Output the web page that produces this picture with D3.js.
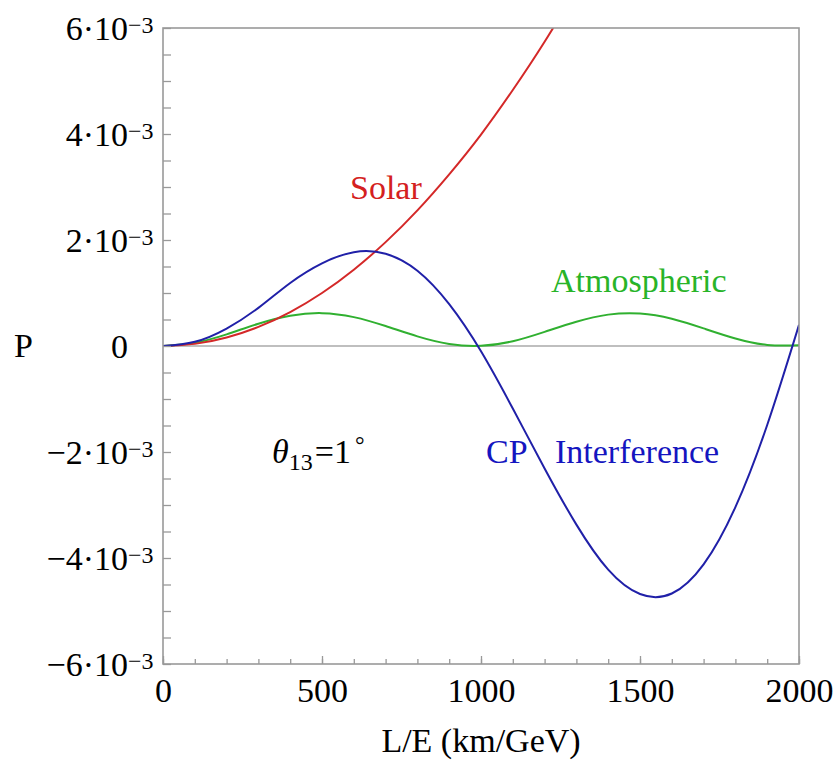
<!DOCTYPE html>
<html>
<head>
<meta charset="utf-8">
<script src="https://cdn.jsdelivr.net/npm/d3@7"></script>
<style>
  body { margin: 0; background: #fff; }
  svg text { font-family: "Liberation Serif", "DejaVu Serif", serif; }
</style>
</head>
<body>
<div id="chart"></div>
<script>
// L/E samples (km/GeV)
const lovere = [0, 100, 200, 300, 400, 500, 600, 700, 800, 900, 1000,
    1100, 1200, 1300, 1400, 1500, 1600, 1700, 1800, 1900, 2000];

// probabilities, in units of 1e-3
const solar = [0, 0.04, 0.16, 0.36, 0.64, 1.00, 1.44, 1.96, 2.56, 3.24, 3.99,
    4.83, 5.74, 6.73];
const atmospheric = [0, 0.062, 0.22, 0.42, 0.57, 0.62, 0.545, 0.376, 0.181, 0.038, 0.003,
    0.09, 0.267, 0.459, 0.592, 0.613, 0.514, 0.332, 0.142, 0.02, 0.012];
const interference = [0, 0.08, 0.33, 0.72, 1.19, 1.56, 1.77, 1.74, 1.42, 0.79, -0.10,
    -1.18, -2.31, -3.37, -4.22, -4.68, -4.67, -4.12, -3.04, -1.49, 0.40];

const yMajor = [-6, -4, -2, 0, 2, 4, 6];
const yMinor = d3.range(-6, 6.01, 0.5);
const xMajor = [0, 500, 1000, 1500, 2000];
const xMinor = d3.range(0, 2001, 100);

const width = 838, height = 760;
const plotLeft = 163, plotRight = 799, plotTop = 28, plotBottom = 664;

let svg = d3.select("#chart").append("svg")
    .attr("width", width)
    .attr("height", height);

let x = d3.scaleLinear().domain([0, 2000]).range([plotLeft, plotRight]);
let y = d3.scaleLinear().domain([-6e-3, 6e-3]).range([plotBottom, plotTop]);

// clip for curves leaving the frame
svg.append("clipPath").attr("id", "plotclip")
    .append("rect")
    .attr("x", plotLeft).attr("y", plotTop)
    .attr("width", plotRight - plotLeft).attr("height", plotBottom - plotTop);

// zero line
svg.append("line")
    .attr("x1", plotLeft).attr("x2", plotRight)
    .attr("y1", y(0)).attr("y2", y(0))
    .attr("stroke", "#aaa").attr("stroke-width", 1.6);

// curves
let line = d3.line()
    .x((d, i) => x(lovere[i]))
    .y(d => y(d * 1e-3))
    .curve(d3.curveNatural);

let g = svg.append("g").attr("clip-path", "url(#plotclip)");
g.append("path").datum(atmospheric)
    .attr("fill", "none").attr("stroke", "#30b030").attr("stroke-width", 2)
    .attr("d", line);
g.append("path").datum(solar)
    .attr("fill", "none").attr("stroke", "#d42828").attr("stroke-width", 2)
    .attr("d", line);
g.append("path").datum(interference)
    .attr("fill", "none").attr("stroke", "#2020a8").attr("stroke-width", 2)
    .attr("d", line);

// frame
svg.append("rect")
    .attr("x", plotLeft).attr("y", plotTop)
    .attr("width", plotRight - plotLeft).attr("height", plotBottom - plotTop)
    .attr("fill", "none").attr("stroke", "#999").attr("stroke-width", 1.6);

// y ticks (inside)
let yAxis = svg.append("g")
    .attr("transform", `translate(${plotLeft},0)`)
    .call(d3.axisLeft(y).tickValues(yMinor.map(v => v * 1e-3)).tickSize(-8).tickFormat(""));
yAxis.select(".domain").remove();
yAxis.selectAll("line").attr("stroke", "#999").attr("stroke-width", 1.3);

// x ticks (inside)
let xMinorAxis = svg.append("g")
    .attr("transform", `translate(0,${plotBottom})`)
    .call(d3.axisBottom(x).tickValues(xMinor).tickSize(-5).tickFormat(""));
xMinorAxis.select(".domain").remove();
xMinorAxis.selectAll("line").attr("stroke", "#999").attr("stroke-width", 1.3);

let xAxis = svg.append("g")
    .attr("transform", `translate(0,${plotBottom})`)
    .call(d3.axisBottom(x).tickValues(xMajor).tickSize(-8).tickPadding(14).tickFormat(d3.format("d")));
xAxis.select(".domain").remove();
xAxis.selectAll("line").attr("stroke", "#999").attr("stroke-width", 1.3);
xAxis.selectAll("text")
    .attr("fill", "#000")
    .style("font-family", "Liberation Serif")
    .style("font-size", "34px");

// y tick labels: mantissa right-aligned, exponent hanging
let ylab = svg.append("g").selectAll("g")
    .data(yMajor)
    .enter().append("g");
ylab.append("text")
    .attr("x", 128)
    .attr("y", d => y(d * 1e-3) + 12)
    .attr("text-anchor", "end")
    .attr("font-size", 34)
    .text(d => d === 0 ? "0" : (d < 0 ? "\u2212" : "") + Math.abs(d) + "\u00b710");
ylab.filter(d => d !== 0).append("text")
    .attr("x", 128)
    .attr("y", d => y(d * 1e-3) + 5)
    .attr("font-size", 24)
    .text("\u22123");

// axis titles
svg.append("text")
    .attr("x", 14).attr("y", 357)
    .attr("font-size", 34)
    .text("P");
svg.append("text")
    .attr("x", (plotLeft + plotRight) / 2).attr("y", 752)
    .attr("text-anchor", "middle")
    .attr("font-size", 34)
    .text("L/E (km/GeV)");

// curve labels
svg.append("text").attr("x", 350).attr("y", 199)
    .attr("font-size", 34).attr("fill", "#d42020").text("Solar");
svg.append("text").attr("x", 551).attr("y", 292)
    .attr("font-size", 34).attr("fill", "#28b428").text("Atmospheric");
svg.append("text").attr("x", 486).attr("y", 463)
    .attr("font-size", 34).attr("fill", "#1515c0").text("CP");
svg.append("text").attr("x", 555).attr("y", 463)
    .attr("font-size", 34).attr("fill", "#1515c0").text("Interference");

let theta = svg.append("text").attr("x", 272).attr("y", 463).attr("font-size", 34);
theta.append("tspan").attr("font-style", "italic").text("\u03b8");
theta.append("tspan").attr("font-size", 24).attr("dy", 7).text("13");
theta.append("tspan").attr("dy", -7).attr("dx", 2).text("=1");
theta.append("tspan").attr("font-size", 24).attr("dy", -10).attr("dx", 4).text("\u00b0");
</script>
</body>
</html>
